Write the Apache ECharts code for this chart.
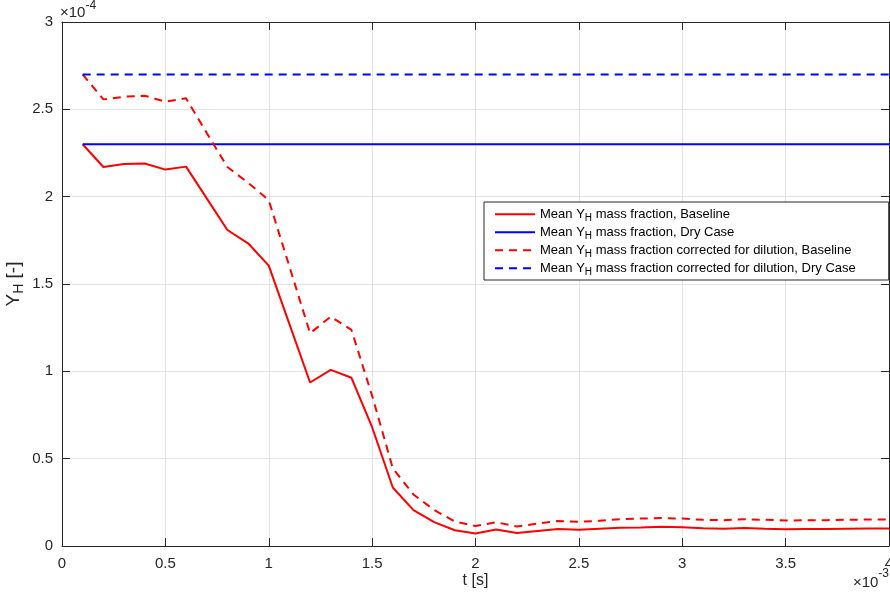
<!DOCTYPE html>
<html>
<head>
<meta charset="utf-8">
<script src="https://cdn.jsdelivr.net/npm/echarts@6/dist/echarts.min.js"></script>
<style>
  html, body { margin: 0; padding: 0; background: #fff; }
  #chart { width: 890px; height: 594px; }
</style>
</head>
<body>
<div id="chart"></div>
<script>
// Time in units of 1e-3 s, mass fraction in units of 1e-4
const T = [0.1, 0.2, 0.3, 0.4, 0.5, 0.6, 0.7, 0.8, 0.9, 1.0,
           1.1, 1.2, 1.3, 1.4, 1.5, 1.6, 1.7, 1.8, 1.9, 2.0,
           2.1, 2.2, 2.3, 2.4, 2.5, 2.6, 2.7, 2.8, 2.9, 3.0,
           3.1, 3.2, 3.3, 3.4, 3.5, 3.6, 3.7, 3.8, 3.9, 4.0];

const YH_BASELINE = [2.30, 2.17, 2.187, 2.19, 2.155, 2.172, 1.99, 1.809, 1.733, 1.605,
                     1.27, 0.936, 1.008, 0.963, 0.68, 0.335, 0.205, 0.137, 0.09, 0.072,
                     0.094, 0.074, 0.086, 0.097, 0.093, 0.099, 0.104, 0.106, 0.110, 0.107,
                     0.101, 0.099, 0.103, 0.099, 0.096, 0.097, 0.098, 0.099, 0.100, 0.100];

const YH_BASELINE_CORR = [2.70, 2.557, 2.572, 2.578, 2.544, 2.563, 2.365, 2.17, 2.08, 1.98,
                          1.60, 1.218, 1.313, 1.237, 0.86, 0.445, 0.295, 0.206, 0.14, 0.115,
                          0.136, 0.112, 0.128, 0.143, 0.138, 0.145, 0.153, 0.157, 0.160, 0.157,
                          0.150, 0.148, 0.153, 0.150, 0.146, 0.147, 0.148, 0.150, 0.152, 0.152];

const T_DRY = [0.1, 4.0];
const YH_DRY = [2.30, 2.30];
const YH_DRY_CORR = [2.70, 2.70];

const X_TICKS = [0, 0.5, 1, 1.5, 2, 2.5, 3, 3.5, 4];
const Y_TICKS = [0, 0.5, 1, 1.5, 2, 2.5, 3];

const SERIES_NAMES = [
  '{n|Mean Y}{s|H}{n| mass fraction, Baseline}',
  '{n|Mean Y}{s|H}{n| mass fraction, Dry Case}',
  '{n|Mean Y}{s|H}{n| mass fraction corrected for dilution, Baseline}',
  '{n|Mean Y}{s|H}{n| mass fraction corrected for dilution, Dry Case}'
];

const pairs = (xs, ys) => xs.map((x, i) => [x, ys[i]]);
const fmt = v => String(Number(v.toFixed(6)));

const FONT = '"Liberation Sans", Arial, sans-serif';
const AX = '#262626';
const RED = '#ff0000';
const BLUE = '#0000ff';

const chart = echarts.init(document.getElementById('chart'), null, { renderer: 'canvas' });

const baseAxis = {
  type: 'value',
  interval: 0.5,
  nameMoveOverlap: false,
  axisLine: { show: true, onZero: false, lineStyle: { color: AX, width: 1 } },
  axisTick: { show: true, inside: true, length: 8, lineStyle: { color: AX, width: 1 } },
  splitLine: { show: false },
  axisLabel: { show: false }
};

const option = {
  animation: false,
  backgroundColor: '#fff',
  grid: { left: 62, right: 1, top: 22, bottom: 48, containLabel: false, outerBoundsMode: 'none' },
  xAxis: [
    Object.assign({}, baseAxis, {
      min: X_TICKS[0], max: X_TICKS[X_TICKS.length - 1], position: 'bottom',
      splitLine: { show: true, lineStyle: { color: '#e3e3e3', width: 1 } },
      axisLabel: { show: true, color: AX, fontFamily: FONT, fontSize: 15, margin: 10, formatter: fmt },
      name: 't [s]', nameLocation: 'middle', nameGap: 27,
      nameTextStyle: { color: AX, fontFamily: FONT, fontSize: 16 }
    }),
    Object.assign({}, baseAxis, {
      min: X_TICKS[0], max: X_TICKS[X_TICKS.length - 1], position: 'top'
    })
  ],
  yAxis: [
    Object.assign({}, baseAxis, {
      min: Y_TICKS[0], max: Y_TICKS[Y_TICKS.length - 1], position: 'left',
      splitLine: { show: true, lineStyle: { color: '#e3e3e3', width: 1 } },
      axisLabel: { show: true, color: AX, fontFamily: FONT, fontSize: 15, margin: 9, formatter: fmt },
      name: '{a|Y}{b|H}{a| [-]}', nameLocation: 'middle', nameGap: 36, nameRotate: 90,
      nameTextStyle: {
        color: AX, fontFamily: FONT,
        rich: {
          a: { fontFamily: FONT, fontSize: 19, color: AX, lineHeight: 22, verticalAlign: 'top' },
          b: { fontFamily: FONT, fontSize: 14, color: AX, lineHeight: 14, verticalAlign: 'bottom', padding: [14, 0, 0, 0] }
        }
      }
    }),
    Object.assign({}, baseAxis, {
      min: Y_TICKS[0], max: Y_TICKS[Y_TICKS.length - 1], position: 'right'
    })
  ],
  legend: {
    orient: 'vertical',
    left: 484, top: 202,
    padding: [3, 33, 3, 10],
    itemGap: 0,
    itemWidth: 40, itemHeight: 12,
    itemStyle: { opacity: 0 },
    backgroundColor: '#fff',
    borderColor: AX, borderWidth: 1, borderRadius: 0,
    data: SERIES_NAMES,
    textStyle: {
      color: '#000', fontFamily: FONT, fontSize: 13,
      rich: {
        n: { fontFamily: FONT, fontSize: 13, color: '#000', lineHeight: 17.6 },
        s: { fontFamily: FONT, fontSize: 10, color: '#000', lineHeight: 17.6, verticalAlign: 'bottom', padding: [8, 0, 0, 0] }
      }
    }
  },
  graphic: [
    {
      type: 'text', left: 60, top: 0,
      style: {
        text: '{m|\u00d710}{e|-4}', fill: AX,
        rich: {
          m: { fontFamily: FONT, fontSize: 15, fill: AX, padding: [6, 0, 0, 0] },
          e: { fontFamily: FONT, fontSize: 12, fill: AX, verticalAlign: 'top', padding: [1, 0, 0, 0] }
        }
      }
    },
    {
      type: 'text', right: 1, top: 568,
      style: {
        text: '{m|\u00d710}{e|-3}', fill: AX,
        rich: {
          m: { fontFamily: FONT, fontSize: 15, fill: AX, padding: [7, 0, 0, 0] },
          e: { fontFamily: FONT, fontSize: 12, fill: AX, verticalAlign: 'top' }
        }
      }
    }
  ],
  series: [
    {
      name: SERIES_NAMES[0], type: 'line', data: pairs(T, YH_BASELINE),
      showSymbol: false, symbol: 'none',
      lineStyle: { color: RED, width: 2 }, itemStyle: { color: RED }
    },
    {
      name: SERIES_NAMES[1], type: 'line', data: pairs(T_DRY, YH_DRY),
      showSymbol: false, symbol: 'none',
      lineStyle: { color: BLUE, width: 2 }, itemStyle: { color: BLUE }
    },
    {
      name: SERIES_NAMES[2], type: 'line', data: pairs(T, YH_BASELINE_CORR),
      showSymbol: false, symbol: 'none',
      lineStyle: { color: RED, width: 2, type: [8, 6] }, itemStyle: { color: RED }
    },
    {
      name: SERIES_NAMES[3], type: 'line', data: pairs(T_DRY, YH_DRY_CORR),
      showSymbol: false, symbol: 'none',
      lineStyle: { color: BLUE, width: 2, type: [8, 6] }, itemStyle: { color: BLUE }
    }
  ]
};

chart.setOption(option);
</script>
</body>
</html>
